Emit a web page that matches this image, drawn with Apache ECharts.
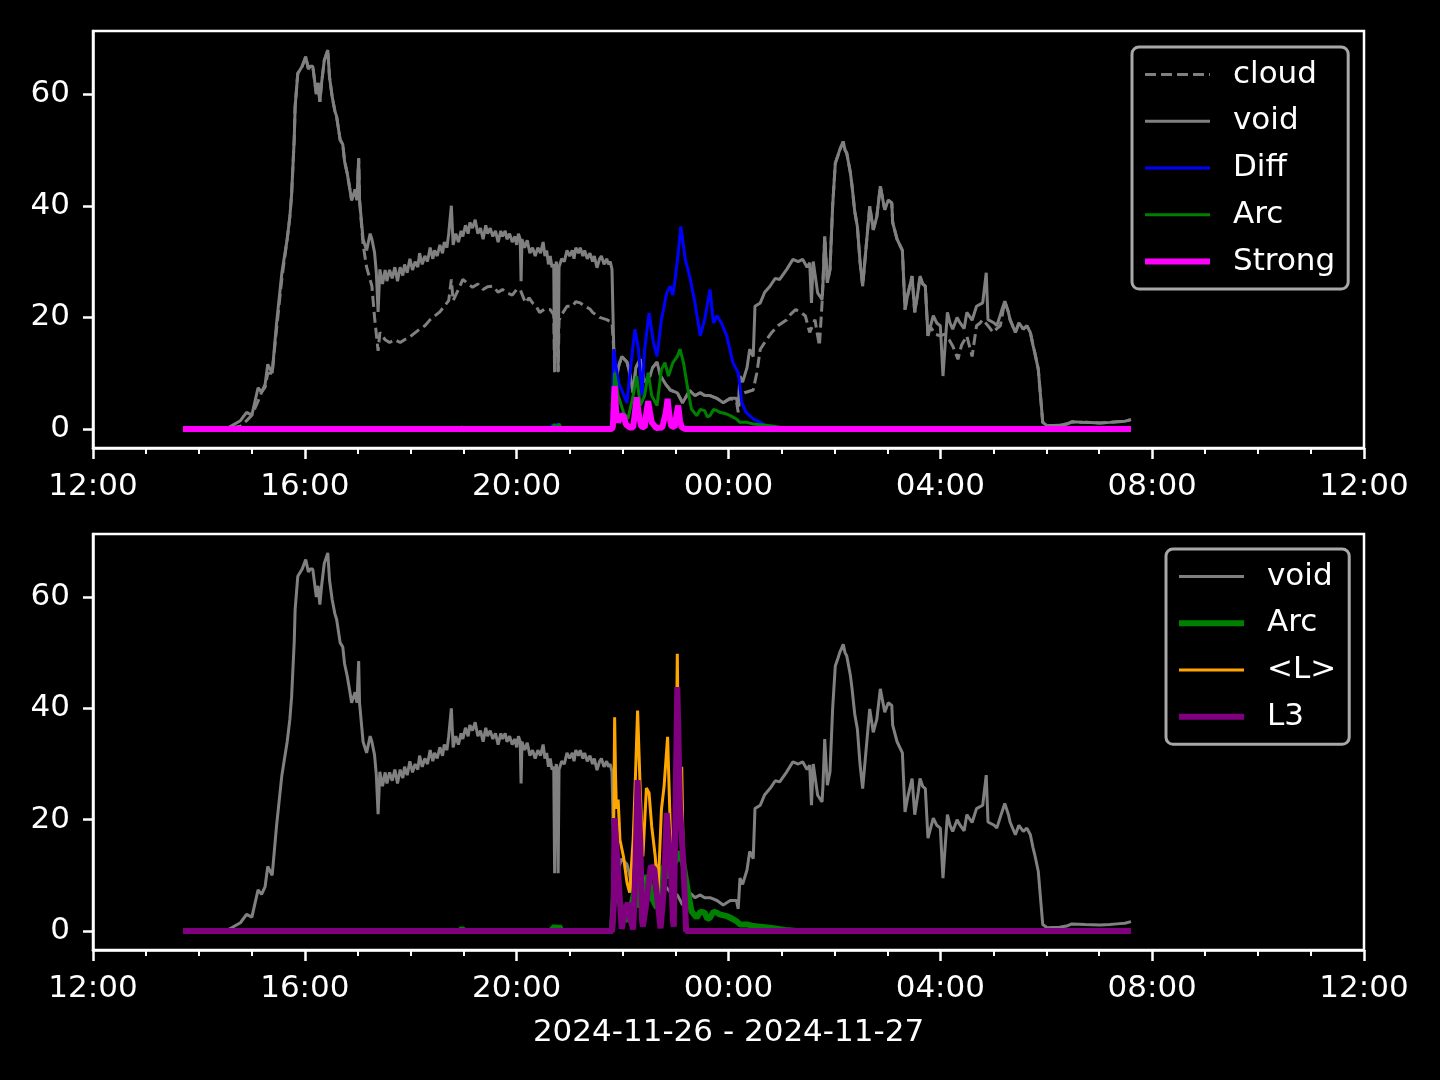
<!DOCTYPE html>
<html>
<head>
<meta charset="utf-8">
<script src="https://cdn.jsdelivr.net/npm/echarts@6/dist/echarts.min.js"></script>
<style>
html,body{margin:0;padding:0;background:#000;}
#chart{width:1440px;height:1080px;}
</style>
</head>
<body>
<div id="chart"></div>
<script>
// ---- data (time of day, value) ----
const xTickLabels = ['12:00','16:00','20:00','00:00','04:00','08:00','12:00'];
const yTickValues = [0, 20, 40, 60];
const xAxisTitle = '2024-11-26 - 2024-11-27';

const voidData = [["13:42",0],["14:30",0],["14:37",0.6],["14:47",1.5],["14:54",3],["15:00",2.5],["15:07",7.4],["15:11",6.6],["15:15",8],["15:18",11.6],["15:23",10],["15:28",19],["15:34",28],["15:40",34],["15:43",38],["15:45",42],["15:48",52],["15:49",57.7],["15:52",63.7],["15:57",65],["16:01",66.7],["16:04",64.5],["16:06",65],["16:09",65],["16:13",60],["16:15",62],["16:17",58.6],["16:19",62],["16:22",66],["16:26",67.9],["16:28",63],["16:31",59.5],["16:34",57],["16:36",56],["16:40",51.8],["16:43",51],["16:45",48],["16:48",45.8],["16:51",43],["16:53",41],["16:57",42.9],["16:59",41],["17:01",48.5],["17:02",41],["17:06",34],["17:10",32],["17:14",35],["17:16",34],["17:19",31.6],["17:21",28],["17:23",21],["17:25",28.6],["17:28",26],["17:31",28.5],["17:33",26.5],["17:36",28.5],["17:39",27],["17:42",29],["17:45",26.5],["17:48",29],["17:51",27.5],["17:53",29.5],["17:56",28],["17:59",30.5],["18:02",28.5],["18:05",30],["18:08",29],["18:10",31.5],["18:13",29.5],["18:16",31],["18:19",30],["18:22",32.5],["18:25",30.5],["18:27",32],["18:30",31],["18:33",33],["18:36",31.5],["18:38",33.5],["18:41",32.5],["18:43",35],["18:46",40],["18:48",33],["18:51",35],["18:54",33.5],["18:57",35.5],["18:59",34.5],["19:02",36.5],["19:05",35],["19:07",37],["19:10",36],["19:13",37.5],["19:16",35],["19:19",36],["19:22",34],["19:25",36.5],["19:27",35],["19:30",36],["19:33",34.5],["19:36",35.5],["19:39",33.5],["19:42",35.5],["19:44",34.5],["19:47",35.5],["19:49",34],["19:52",35],["19:55",33.5],["19:58",34.5],["20:00",33],["20:02",35],["20:04",34],["20:05",26.5],["20:06",34],["20:09",32.5],["20:12",33.8],["20:15",31.5],["20:18",32.5],["20:21",31],["20:24",32.5],["20:27",31.5],["20:30",33.5],["20:32",31],["20:34",32],["20:36",29.5],["20:38",31],["20:40",29],["20:42",29.5],["20:43",10.4],["20:44",29],["20:45",30],["20:46",28],["20:47",10.4],["20:48",29],["20:51",30.5],["20:54",30],["20:57",32],["21:00",31],["21:03",32],["21:05",30.5],["21:07",32.5],["21:10",31.5],["21:12",32.5],["21:15",31],["21:17",32],["21:20",30.5],["21:23",31.5],["21:26",30],["21:28",31],["21:31",28.9],["21:34",30.5],["21:36",31],["21:39",29.5],["21:42",30.5],["21:44",29.5],["21:46",30],["21:48",28.6],["21:50",14.3],["21:51",6],["21:55",11],["21:59",13],["22:05",12],["22:08",10],["22:12",6.5],["22:15",11],["22:20",12.5],["22:25",8.4],["22:31",9.5],["22:34",11],["22:39",12],["22:43",9.5],["22:49",8],["22:54",7],["23:02",6.5],["23:08",4.7],["23:16",6.9],["23:22",6],["23:28",6.5],["23:33",6],["23:39",6],["23:47",5.5],["23:54",4.7],["00:02",5.5],["00:09",5.5],["00:11",4],["00:13",9.5],["00:16",8.4],["00:21",11],["00:24",14.3],["00:28",13],["00:30",22],["00:36",22.6],["00:41",24.5],["00:47",25.6],["00:53",27],["00:58",26.8],["01:06",28.6],["01:13",30.4],["01:19",30],["01:24",30.4],["01:29",29],["01:32",29.8],["01:34",22.6],["01:36",30],["01:41",24.4],["01:46",23.2],["01:47",26],["01:49",34.5],["01:52",26.2],["01:55",28.6],["01:58",40],["02:01",47.6],["02:04",49],["02:06",50],["02:10",51.5],["02:12",50],["02:14",49.4],["02:18",46],["02:20",43.5],["02:23",39],["02:26",36.3],["02:29",30],["02:32",25.6],["02:37",34.5],["02:40",39.9],["02:44",35.7],["02:48",38],["02:52",43.5],["02:55",41],["02:57",39.3],["03:01",41],["03:05",40.5],["03:06",37],["03:11",34],["03:17",32],["03:20",21.4],["03:23",24],["03:28",27.4],["03:31",20.9],["03:35",25],["03:37",27.4],["03:40",26],["03:43",25.6],["03:46",16.7],["03:52",20.3],["03:56",19],["04:00",18.5],["04:03",9.5],["04:08",20.9],["04:11",19],["04:14",17.9],["04:19",20],["04:22",19.1],["04:27",18],["04:30",20.9],["04:36",19.5],["04:41",22],["04:48",22.6],["04:52",28],["04:54",19.6],["04:56",19.6],["05:01",19],["05:04",18.5],["05:09",21],["05:13",22.9],["05:17",21],["05:19",19.6],["05:25",17.3],["05:29",19],["05:34",17.9],["05:38",18.5],["05:42",17.3],["05:45",15],["05:47",13.7],["05:51",10.7],["05:54",5],["05:56",1.2],["06:01",0.6],["06:15",0.7],["06:23",0.9],["06:29",1.3],["06:44",1.2],["07:01",1.1],["07:12",1.2],["07:20",1.3],["07:29",1.4],["07:36",1.7]];

const cloudData = [["13:42",0],["14:30",0],["14:47",0.5],["14:54",1.5],["15:00",2.5],["15:07",5],["15:11",6.6],["15:15",7.5],["15:18",10],["15:23",10],["15:28",18],["15:34",27],["15:40",34],["15:43",38],["15:45",42],["15:48",52],["15:49",57.7],["15:52",63.7],["15:57",65],["16:01",66.7],["16:04",64.5],["16:06",65],["16:09",65],["16:13",60],["16:15",62],["16:17",58.6],["16:19",62],["16:22",66],["16:26",67.9],["16:28",63],["16:31",59.5],["16:34",57],["16:36",56],["16:40",51.8],["16:43",51],["16:45",48],["16:48",45.8],["16:51",43],["16:53",41],["16:57",42.9],["16:59",41],["17:01",48.5],["17:02",41],["17:06",33],["17:10",29],["17:16",25.6],["17:19",20],["17:23",14],["17:25",17.3],["17:31",16],["17:36",15.5],["17:42",16],["17:48",15.5],["17:53",16],["17:59",16.5],["18:10",17.9],["18:16",18.5],["18:22",19.6],["18:33",21],["18:41",22.6],["18:43",23],["18:46",26.8],["18:48",23],["18:54",25],["18:59",26.8],["19:05",26],["19:10",25.4],["19:16",26],["19:22",25],["19:27",25.5],["19:33",25.6],["19:39",24.5],["19:44",25],["19:49",24.4],["19:55",24],["20:00",25],["20:04",25],["20:10",22.6],["20:14",23.5],["20:18",22.6],["20:22",22],["20:26",20.9],["20:32",21.5],["20:38",21.4],["20:42",20.5],["20:43",10.2],["20:44",20],["20:46",20.5],["20:47",10.2],["20:48",19.5],["20:51",20.5],["20:57",22],["21:03",22],["21:07",22.8],["21:12",22.6],["21:17",22],["21:23",21.5],["21:26",20.9],["21:34",20],["21:42",19.6],["21:48",19.1],["21:50",14.3],["21:51",6],["21:55",11],["21:59",13],["22:05",12],["22:08",10],["22:12",6.5],["22:15",11],["22:20",12.5],["22:25",8.4],["22:31",9.5],["22:34",11],["22:39",12],["22:43",9.5],["22:49",8],["22:54",7],["23:02",6.5],["23:08",4.7],["23:16",6.9],["23:22",6],["23:28",6.5],["23:33",6],["23:39",6],["23:47",5.5],["23:54",4.7],["00:02",5.5],["00:09",5],["00:11",3],["00:13",6],["00:18",6.5],["00:28",7],["00:32",10],["00:36",14.3],["00:43",16],["00:49",17.3],["00:56",18.5],["01:06",19.6],["01:10",20.5],["01:16",21.4],["01:21",21],["01:27",20.3],["01:32",17.3],["01:38",19.6],["01:41",16.7],["01:43",14.9],["01:46",22.6],["01:47",26],["01:49",34.5],["01:52",26.2],["01:55",28.6],["01:58",40],["02:01",47.6],["02:04",49],["02:06",50],["02:10",51.5],["02:12",50],["02:14",49.4],["02:18",46],["02:20",43.5],["02:23",39],["02:26",36.3],["02:29",30],["02:32",25.6],["02:37",34.5],["02:40",39.9],["02:44",35.7],["02:48",38],["02:52",43.5],["02:55",41],["02:57",39.3],["03:01",41],["03:05",40.5],["03:06",37],["03:11",34],["03:17",32],["03:20",21.4],["03:23",24],["03:28",27.4],["03:31",20.9],["03:35",25],["03:37",27.4],["03:40",26],["03:43",25.6],["03:46",16.7],["03:48",18.5],["03:54",17],["04:00",16.7],["04:05",17],["04:10",16],["04:14",14.9],["04:20",12.5],["04:24",15],["04:30",16.7],["04:36",13],["04:41",18.5],["04:45",19],["04:48",19.6],["04:54",18.5],["05:00",17.3],["05:04",18],["05:08",18.5],["05:13",22.9],["05:17",21],["05:19",19.6],["05:25",17.3],["05:29",19],["05:34",17.9],["05:38",18.5],["05:42",17.3],["05:45",15],["05:47",13.7],["05:51",10.7],["05:54",5],["05:56",1.2],["06:01",0.6],["06:15",0.7],["06:23",0.9],["06:29",1.3],["06:44",1.2],["07:01",1.1],["07:12",1.2],["07:20",1.3],["07:29",1.4],["07:36",1.7]];

const diffData = [["13:42",0],["20:38",0],["20:41",0.8],["20:44",0.2],["20:47",1],["20:50",0],["21:46",0],["21:48",0.5],["21:50",14.3],["21:53",10.7],["21:56",8],["21:59",7],["22:05",4.7],["22:08",9.5],["22:14",17.9],["22:18",14.3],["22:22",6],["22:25",14.3],["22:30",20.8],["22:35",15.5],["22:39",13],["22:44",19.6],["22:50",24.4],["22:54",25.6],["22:57",24],["22:59",26.2],["23:03",31.5],["23:06",36.3],["23:11",30.4],["23:16",27.4],["23:22",22.6],["23:28",16.7],["23:33",19.6],["23:39",25],["23:43",19],["23:47",20.3],["23:52",19],["23:58",16.7],["00:05",11.9],["00:11",10.1],["00:15",4.8],["00:20",3],["00:28",1.8],["00:36",1.2],["00:45",0.4],["00:53",0],["07:36",0]];

const arcData = [["13:42",0],["18:55",0],["18:58",0.4],["19:01",0],["20:38",0],["20:43",0.8],["20:46",0.3],["20:48",0.9],["20:51",0],["21:48",0],["21:50",6],["21:51",10.1],["21:55",6],["22:01",3],["22:06",1.8],["22:12",6],["22:16",9.5],["22:20",4.2],["22:25",6],["22:29",10.1],["22:33",6],["22:39",4.2],["22:44",10.7],["22:48",11.9],["22:52",9.5],["22:57",11.9],["23:02",13],["23:05",14.3],["23:09",11.9],["23:14",7.1],["23:18",3.6],["23:24",2.4],["23:28",3.5],["23:33",3.3],["23:36",2.2],["23:39",2.4],["23:43",3.5],["23:47",3.3],["23:50",3],["23:58",2.7],["00:02",2.4],["00:09",1.8],["00:13",1.2],["00:21",1.2],["00:28",0.9],["00:47",0.6],["01:04",0.2],["01:21",0],["07:36",0]];

const strongData = [["13:42",0],["21:48",0],["21:49",0.5],["21:50",4],["21:51",7.7],["21:52",5],["21:53",2.5],["21:55",1.2],["21:58",2.4],["22:01",2.4],["22:04",0.8],["22:08",0.3],["22:12",0.3],["22:14",3],["22:16",5.7],["22:18",3],["22:21",0.5],["22:25",0.3],["22:27",3],["22:29",5],["22:31",3],["22:33",1.2],["22:38",0.2],["22:45",0.3],["22:49",3],["22:51",5.4],["22:53",2.5],["22:55",0.6],["22:59",0.3],["23:01",2.5],["23:03",4.2],["23:05",1.5],["23:07",0.3],["23:11",0],["07:36",0]];

const meanLData = [["13:42",0],["21:48",0],["21:49",1],["21:50",20],["21:51",38.4],["21:52",28],["21:53",22],["21:55",23.6],["21:57",16.4],["22:01",13.4],["22:05",8.7],["22:08",6.9],["22:12",16.4],["22:14",25],["22:17",39.6],["22:20",25.4],["22:23",13.4],["22:27",25.7],["22:30",24.8],["22:33",18.8],["22:37",13.4],["22:40",6.3],["22:44",21.8],["22:47",26],["22:51",34.9],["22:54",18.8],["22:57",4.5],["23:00",20],["23:02",49.8],["23:04",20],["23:07",29.5],["23:09",10],["23:12",1.6],["23:14",0],["07:36",0]];

const l3Data = [["13:42",0],["21:48",0],["21:50",5],["21:51",20.3],["21:53",15],["21:55",10.5],["21:59",0.4],["22:02",3],["22:06",5.1],["22:09",2],["22:12",0.3],["22:14",8],["22:17",27.1],["22:20",16.4],["22:22",2],["22:23",0.8],["22:27",5.1],["22:32",11.7],["22:36",11.1],["22:39",6.3],["22:43",0.5],["22:47",8],["22:50",21.2],["22:55",10.5],["22:57",2],["22:58",0.8],["23:02",43.8],["23:05",22.4],["23:09",11.7],["23:12",0],["07:36",0]];

// ---- helpers ----
function toMin(s) { // minutes since 12:00 on day 1
  const p = s.split(':').map(Number);
  let v = p[0] * 60 + p[1] - 720;
  if (v < 0) v += 1440;
  return v;
}
const prep = arr => arr.map(d => [toMin(d[0]), d[1]]);

const FONT = 'DejaVu Sans';
const FS = 31;
const WHITE = '#ffffff';
const GRAY = '#808080';

function makeX(gi, withName) {
  const ax = {
    type: 'value', gridIndex: gi, min: 0, max: 1440, interval: 240,
    splitLine: { show: false },
    axisLine: { show: true, onZero: false, lineStyle: { color: WHITE, width: 2.5 } },
    axisTick: { show: true, length: 11, lineStyle: { color: WHITE, width: 2.5 } },
    minorTick: { show: true, splitNumber: 4, length: 6, lineStyle: { color: WHITE, width: 2 } },
    axisLabel: {
      color: WHITE, fontSize: FS, fontFamily: FONT, margin: 23,
      formatter: v => xTickLabels[Math.round(v / 240)]
    }
  };
  if (withName) {
    ax.name = xAxisTitle;
    ax.nameLocation = 'middle';
    ax.nameGap = 67;
    ax.nameTextStyle = { color: WHITE, fontSize: FS, fontFamily: FONT };
  }
  return ax;
}
function makeY(gi) {
  return {
    type: 'value', gridIndex: gi, min: -3.39, max: 71.3,
    splitLine: { show: false },
    axisLine: { show: true, onZero: false, lineStyle: { color: WHITE, width: 2.5 } },
    axisTick: { show: true, length: 10, customValues: yTickValues, lineStyle: { color: WHITE, width: 2.5 } },
    axisLabel: { color: WHITE, fontSize: FS, fontFamily: FONT, margin: 23, padding: [4, 0, 0, 0], customValues: yTickValues }
  };
}
function line(name, data, color, width, gi, dash) {
  return {
    type: 'line', name: name, data: prep(data), xAxisIndex: gi, yAxisIndex: gi,
    showSymbol: false, symbol: 'none', animation: false,
    lineStyle: { color: color, width: width, type: dash || 'solid' },
    itemStyle: { color: color },
    emphasis: { disabled: true }
  };
}
function legItem(name, color, width, dash) {
  return { name: name, itemStyle: { opacity: 0 }, lineStyle: { color: color, width: width, type: dash || 'solid', opacity: 1 } };
}
const legendCommon = {
  orient: 'vertical', itemWidth: 65, itemHeight: 31, itemGap: 15.75,
  backgroundColor: '#000', borderColor: '#a8a8a8', borderWidth: 3, borderRadius: 7,
  selectedMode: false,
  itemStyle: { opacity: 0 },
  textStyle: { color: WHITE, fontSize: FS, fontFamily: FONT, lineHeight: 31, padding: [0, 0, 0, 18] },
  formatter: n => n.trim()
};

const chart = echarts.init(document.getElementById('chart'), null, { renderer: 'canvas' });
chart.setOption({
  backgroundColor: '#000',
  animation: false,
  grid: [
    { left: 93, top: 31, width: 1271, height: 417, show: true, borderColor: WHITE, borderWidth: 2.5, outerBoundsMode: 'none' },
    { left: 93, top: 534, width: 1271, height: 416, show: true, borderColor: WHITE, borderWidth: 2.5, outerBoundsMode: 'none' }
  ],
  xAxis: [makeX(0, false), makeX(1, true)],
  yAxis: [makeY(0), makeY(1)],
  legend: [
    Object.assign({}, legendCommon, { left: 1132, top: 47, padding: [12, 13, 12, 10], data: [
      legItem('cloud', GRAY, 3, [11, 5]), legItem('void', GRAY, 3), legItem('Diff', '#0000ff', 3),
      legItem('Arc', '#008000', 3), legItem('Strong', '#ff00ff', 6)
    ] }),
    Object.assign({}, legendCommon, { left: 1166, top: 549, padding: [12, 13, 12, 10], data: [
      legItem('void ', GRAY, 3), legItem('Arc ', '#008000', 6), legItem('<L>', '#ffa500', 3), legItem('L3', '#800080', 6)
    ] })
  ],
  series: [
    line('cloud', cloudData, GRAY, 3, 0, [11, 5]),
    line('void', voidData, GRAY, 3, 0),
    line('Diff', diffData, '#0000ff', 3, 0),
    line('Arc', arcData, '#008000', 3, 0),
    line('Strong', strongData, '#ff00ff', 6, 0),
    line('void ', voidData, GRAY, 3, 1),
    line('Arc ', arcData, '#008000', 6, 1),
    line('<L>', meanLData, '#ffa500', 3, 1),
    line('L3', l3Data, '#800080', 6, 1)
  ]
});
</script>
</body>
</html>
